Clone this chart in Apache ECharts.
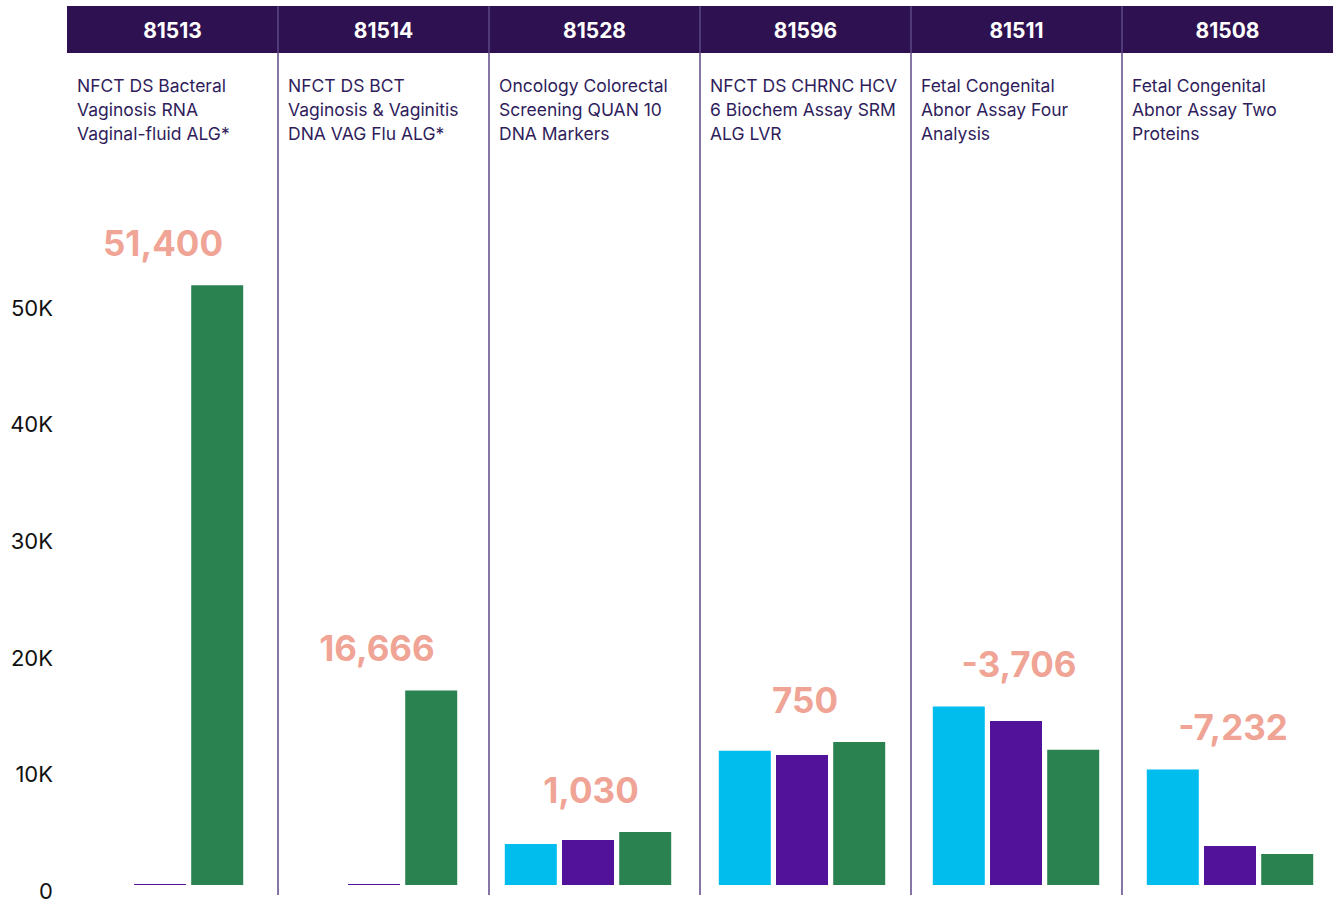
<!DOCTYPE html>
<html>
<head>
<meta charset="utf-8">
<title>CPT codes</title>
<script src="https://cdn.jsdelivr.net/npm/echarts@6/dist/echarts.min.js"></script>
<style>
	html, body { margin: 0; padding: 0; background: #fff; }
	#bar { width: 1333px; height: 903px; }
</style>
</head>
<body>
<div id="bar"></div>
<script>
// 数据
var codes = ['81513', '81514', '81528', '81596', '81511', '81508'];
var descs = [
	['NFCT DS Bacteral', 'Vaginosis RNA', 'Vaginal-fluid ALG*'],
	['NFCT DS BCT', 'Vaginosis & Vaginitis', 'DNA VAG Flu ALG*'],
	['Oncology Colorectal', 'Screening QUAN 10', 'DNA Markers'],
	['NFCT DS CHRNC HCV', '6 Biochem Assay SRM', 'ALG LVR'],
	['Fetal Congenital', 'Abnor Assay Four', 'Analysis'],
	['Fetal Congenital', 'Abnor Assay Two', 'Proteins']
];
var cyanVals = [0, 0, 3510, 11500, 15300, 9890];
var purpleVals = [80, 80, 3860, 11150, 14050, 3340];
var greenVals = [51400, 16666, 4540, 12250, 11594, 2658];
var diffLabels = ['51,400', '16,666', '1,030', '750', '-3,706', '-7,232'];
var yTicks = [0, 10000, 20000, 30000, 40000, 50000];

var font = 'Inter, "Noto Sans", sans-serif';

// 表头布局
var colLeft = 67;
var colW = 211;
var graphic = [];
graphic.push({
	type : 'rect',
	shape : { x : colLeft, y : 6, width : colW * codes.length, height : 47 },
	style : { fill : '#2e1150' },
	z : 1
});
for (var i = 0; i < codes.length; i++) {
	var x0 = colLeft + colW * i;
	graphic.push({
		type : 'text',
		x : x0 + colW / 2,
		y : 30,
		style : {
			text : codes[i],
			fill : '#fff',
			font : '700 21px ' + font,
			align : 'center',
			verticalAlign : 'middle'
		},
		z : 3
	});
	graphic.push({
		type : 'text',
		x : x0 + 10,
		y : 73,
		style : {
			text : descs[i].join('\n'),
			fill : '#2f1d5c',
			font : '400 17.5px ' + font,
			lineHeight : 24,
			align : 'left',
			verticalAlign : 'top'
		},
		z : 3
	});
	if (i > 0) {
		graphic.push({
			type : 'line',
			shape : { x1 : x0, y1 : 6, x2 : x0, y2 : 895 },
			style : { stroke : '#5e4889', lineWidth : 1.5 },
			z : 2
		});
	}
}

// 每组最高值, 用于放置差值标签
var topVals = [];
for (var j = 0; j < codes.length; j++) {
	topVals.push(Math.max(cyanVals[j], purpleVals[j], greenVals[j]));
}

var myChart = echarts.init(document.getElementById('bar'), null, { renderer : 'svg' });

var option = {
	animation : false,
	backgroundColor : '#fff',
	graphic : graphic,
	grid : {
		left : 53,
		width : 1284,
		top : 185,
		bottom : 18,
		outerBoundsMode : 'none'
	},
	xAxis : {
		type : 'category',
		data : codes,
		axisLine : { show : false },
		axisTick : { show : false },
		axisLabel : { show : false }
	},
	yAxis : {
		type : 'value',
		min : 0,
		max : 60000,
		interval : 10000,
		splitLine : { show : false },
		axisLine : { show : false },
		axisTick : { show : false },
		axisLabel : {
			showMaxLabel : false,
			margin : 0,
			formatter : function(v) {
				if (yTicks.indexOf(v) < 0) return '';
				return '{t|' + (v == 0 ? '0' : (v / 1000) + 'K') + '}';
			},
			rich : {
				t : {
					color : '#111',
					fontFamily : font,
					fontSize : 22,
					padding : [12, 0, 0, 0]
				}
			}
		}
	},
	series : [
		{
			name : 'cyan',
			type : 'bar',
			barWidth : 52,
			barGap : '10%',
			data : cyanVals,
			itemStyle : { color : '#00bdee' }
		}, {
			name : 'purple',
			type : 'bar',
			barWidth : 52,
			barGap : '10%',
			data : purpleVals,
			itemStyle : { color : '#52129a' }
		}, {
			name : 'green',
			type : 'bar',
			barWidth : 52,
			barGap : '10%',
			data : greenVals,
			itemStyle : { color : '#2a8250' }
		}, {
			name : 'diff',
			type : 'scatter',
			symbolSize : 0,
			data : topVals,
			silent : true,
			label : {
				show : true,
				position : 'top',
				distance : 25,
				offset : [3, 0],
				color : '#ec8b78',
				fontFamily : font,
				fontSize : 35,
				fontWeight : 'bold',
				formatter : function(p) {
					return diffLabels[p.dataIndex];
				}
			}
		}
	]
};
myChart.setOption(option);
</script>
</body>
</html>
